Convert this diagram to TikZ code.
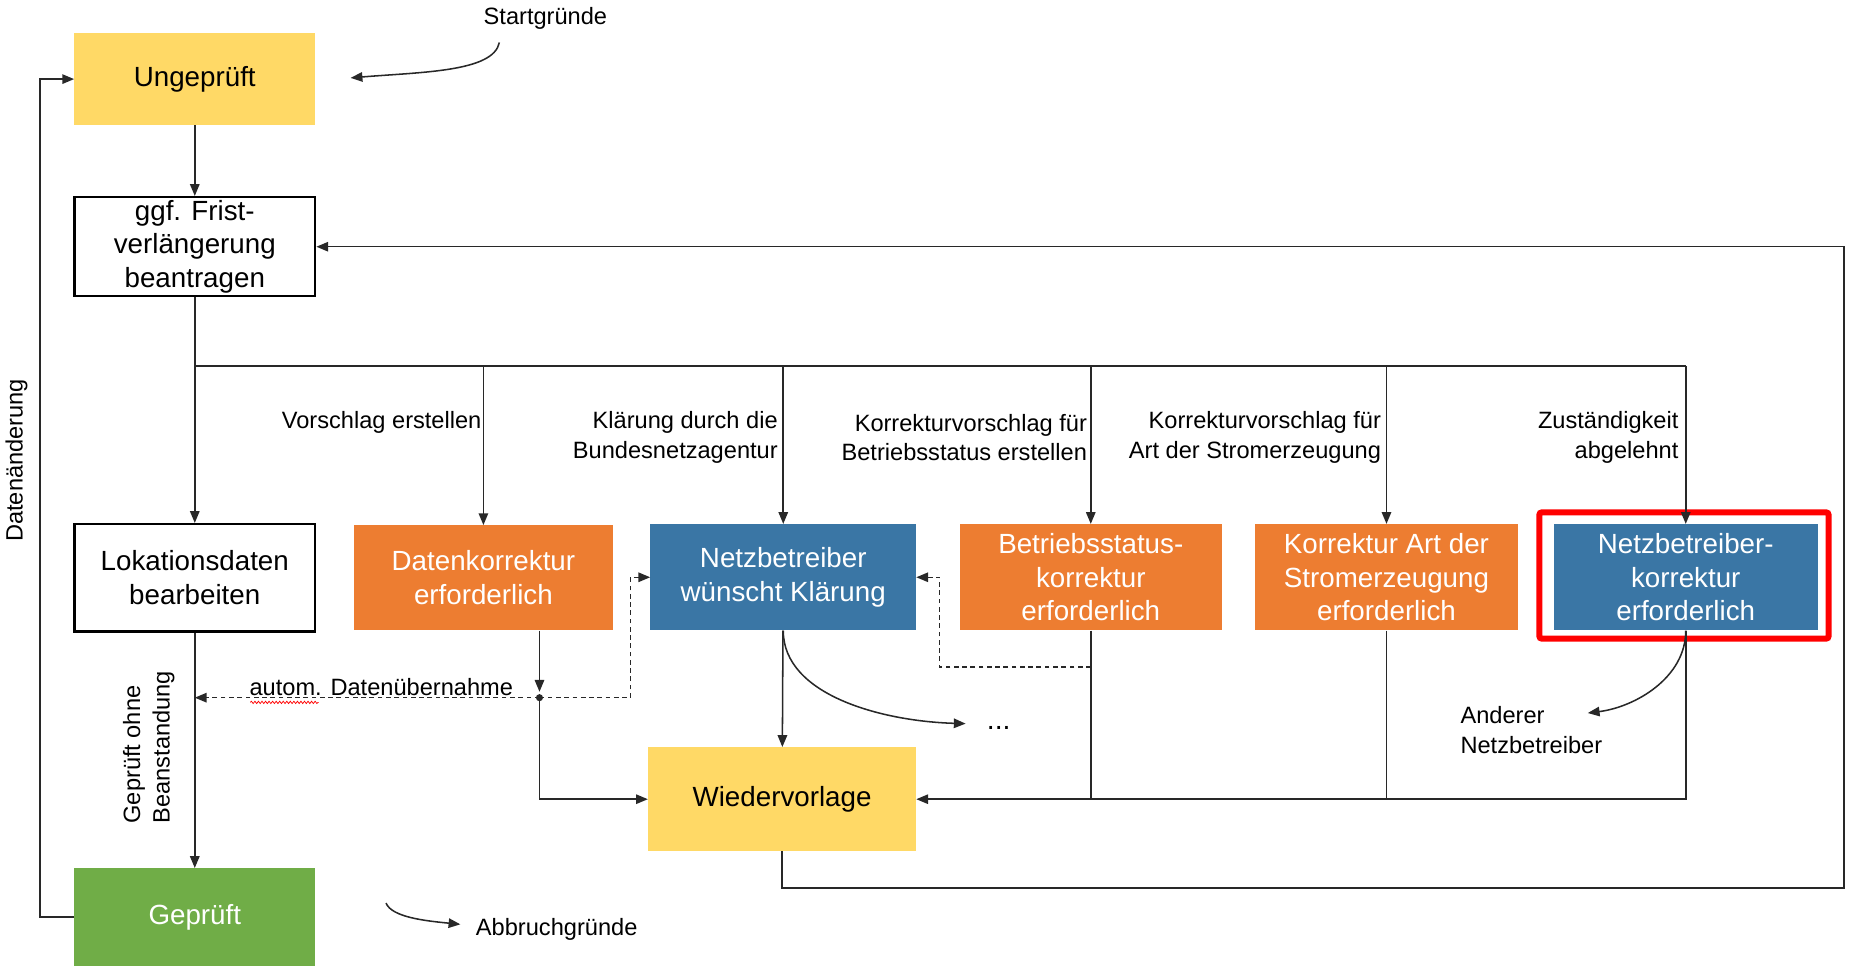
\documentclass[tikz,border=0pt]{standalone}
\usepackage{fontspec}
\setmainfont{Liberation Sans}
\usetikzlibrary{arrows.meta,decorations.pathmorphing,calc}
\definecolor{cyel}{RGB}{255,217,102}
\definecolor{cora}{RGB}{237,125,49}
\definecolor{cblu}{RGB}{58,118,165}
\definecolor{cgrn}{RGB}{112,173,71}
\definecolor{lc}{RGB}{40,40,40}
\begin{document}
\begin{tikzpicture}[x=1pt,y=-1pt,
  base/.style={inner sep=0pt, align=center, font=\fontsize{23.5}{28.5}\selectfont},
  wbox/.style={base, draw=black, line width=2pt, fill=white, text=black},
  ybox/.style={base, fill=cyel, text=black},
  obox/.style={base, fill=cora, text=white},
  bbox/.style={base, fill=cblu, text=white},
  gbox/.style={base, fill=cgrn, text=white},
  lbl/.style={inner sep=0pt, font=\fontsize{20}{25}\selectfont, text=black},
  ln/.style={draw=lc, line width=1.3pt},
  arr/.style={ln, -{Triangle[length=10pt,width=8pt]}},
  darr/.style={arr, dash pattern=on 4pt off 3pt}]
\useasboundingbox (0,0) rectangle (1568,820);

% boxes
\node[ybox, minimum width=204, minimum height=78] (un) at (165,67) {Ungeprüft};
\node[wbox, minimum width=204, minimum height=84] (fr) at (165,209) {ggf. Frist-\\verlängerung\\beantragen};
\node[wbox, minimum width=204, minimum height=91] (lok) at (165,489.5) {Lokationsdaten\\bearbeiten};
\node[gbox, minimum width=204, minimum height=83] (ge) at (165,777) {Geprüft};
\node[obox, minimum width=219, minimum height=89] (dk) at (409.5,489.5) {Datenkorrektur\\erforderlich};
\node[bbox, minimum width=225, minimum height=90] (nb) at (663.5,489) {Netzbetreiber\\wünscht Klärung};
\node[obox, minimum width=222, minimum height=90] (bs) at (924,489) {Betriebsstatus-\\korrektur\\erforderlich};
\node[obox, minimum width=223, minimum height=90] (ka) at (1174.5,489) {Korrektur Art der\\Stromerzeugung\\erforderlich};
\node[bbox, minimum width=224, minimum height=90] (nbk) at (1428,489) {Netzbetreiber-\\korrektur\\erforderlich};
\node[ybox, minimum width=227, minimum height=88] (wv) at (662.5,677) {Wiedervorlage};
\draw[red, line width=5pt, rounded corners=2pt] (1304,434) rectangle (1549,541);

% coordinates
\coordinate (b0) at (165,310);
\coordinate (j1) at (457,591);
\coordinate (j2) at (534,591);
\coordinate (j3) at (796,565);
\coordinate (rr) at (1562,209);
\coordinate (sg) at (423,36);
\coordinate (sgend) at (297,66);
\coordinate (ab) at (327,765);
\coordinate (abend) at (390,783);
\coordinate (dotsend) at (818,613);
\coordinate (andend) at (1345,604);

% main vertical flow
\draw[arr] (un) -- (fr);
\draw[arr] (fr) -- (lok);
\draw[arr] (lok) -- (ge);
\draw[ln, line width=1.6pt] (b0) -- (b0 -| ka.north);
\draw[ln] (b0 -| ka.north) -- (b0 -| nbk.north);
\draw[arr] (b0 -| nbk.north) -- (nbk.north);
\draw[arr] (b0 -| dk.north) -- (dk.north);
\draw[arr] (b0 -| nb.north) -- (nb.north);
\draw[arr] (b0 -| bs.north) -- (bs.north);
\draw[arr] (b0 -| ka.north) -- (ka.north);

% loops
\draw[arr] (ge.west) -- ++(-29,0) |- (un.west);
\draw[arr] (wv.south) -- ++(0,31) -| (rr) -- (fr.east);

% Datenkorrektur
\draw[arr] (dk.south -| j1) -- ($(j1)+(0,-5)$);
\fill[lc] (j1) circle (3pt);
\draw[arr] (j1) |- (wv.west);
\draw[darr] (j1) -- (j2) |- (nb.west);
\draw[darr] (j1) -- (lok.south |- j1);

% Betriebsstatus
\draw[darr] (bs.south |- j3) -- (j3) |- (nb.east);
\draw[ln] (bs.south) -- (bs.south |- wv.east);
\draw[ln] (ka.south) -- (ka.south |- wv.east);
\draw[arr] (nbk.south) -- (nbk.south |- wv.east) -- (wv.east);

% Netzbetreiber
\draw[arr] (nb) -- (wv);
\draw[arr] (nb.south) .. controls +(0,55) and +(-70,-2) .. (dotsend);
\draw[arr] (nbk.south) .. controls +(0,40) and +(40,-5) .. (andend);

% side arrows
\draw[arr] (sg) .. controls +(-5,25) and +(60,-5) .. (sgend);
\draw[arr] (ab) .. controls +(5,12) and +(-30,-3) .. (abend);

% labels
\node[lbl] (lsg) at (462,16) {Startgründe};
\node[lbl, anchor=west] (lab) at (403,787) {Abbruchgründe};
\node[lbl, anchor=east] (l1) at (408,358) {Vorschlag erstellen};
\node[lbl, anchor=east, align=right] (l2) at (659,370.5) {Klärung durch die\\Bundesnetzagentur};
\node[lbl, anchor=east, align=right] (l3) at (921,370.5) {Korrekturvorschlag für\\Betriebsstatus erstellen};
\node[lbl, anchor=east, align=right] (l4) at (1170,370.5) {Korrekturvorschlag für\\Art der Stromerzeugung};
\node[lbl, anchor=east, align=right] (l5) at (1422,370.5) {Zuständigkeit\\abgelehnt};
\node[lbl, anchor=west, align=left] (l6) at (1237,618.5) {Anderer\\Netzbetreiber};
\node[lbl] (l7) at (323,582) {autom. Datenübernahme};
\draw[red, line width=0.6pt, decorate, decoration={snake, amplitude=1pt, segment length=3pt}] (212,595) -- (270,595);
\node[lbl, rotate=90] (l8) at (14,390) {Datenänderung};
\node[lbl, rotate=90, align=left] (l9) at (126,633) {Geprüft ohne\\Beanstandung};
\node[lbl] (dots) at (846,617) {\fontsize{24}{24}\selectfont...};
\end{tikzpicture}
\end{document}
